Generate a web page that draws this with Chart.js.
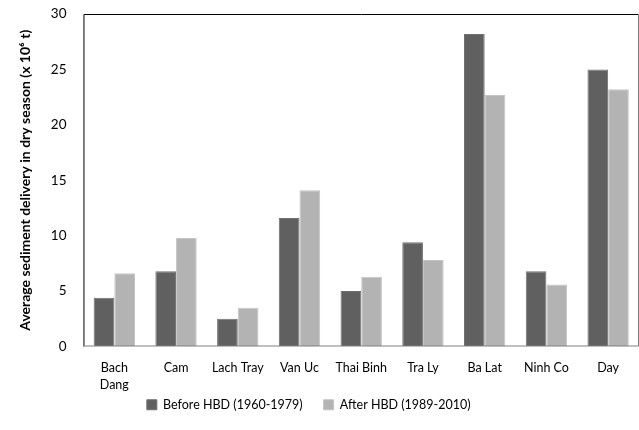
<!DOCTYPE html>
<html>
<head>
<meta charset="utf-8">
<script src="https://cdn.jsdelivr.net/npm/chart.js@4.4.0/dist/chart.umd.min.js"></script>
<style>
  html, body { margin: 0; padding: 0; background: #fff; }
  #wrap { width: 639px; height: 430px; }
</style>
</head>
<body>
<div id="wrap"><canvas id="chart"></canvas></div>
<script>
// 数据
const categories = [['Bach', 'Dang'], 'Cam', 'Lach Tray', 'Van Uc', 'Thai Binh', 'Tra Ly', 'Ba Lat', 'Ninh Co', 'Day'];
const beforeHBD = [4.4, 6.8, 2.5, 11.6, 5.0, 9.4, 28.2, 6.8, 25.0];
const afterHBD = [6.6, 9.8, 3.5, 14.1, 6.3, 7.8, 22.7, 5.6, 23.2];
const yTicks = [0, 5, 10, 15, 20, 25, 30];

const font = "Lato, 'Open Sans', sans-serif";

// 绘图区边框
const frame = {
  id: 'frame',
  afterDraw(chart) {
    const a = chart.chartArea;
    const ctx = chart.ctx;
    ctx.save();
    ctx.lineWidth = 1;
    ctx.strokeStyle = '#000';
    ctx.beginPath();
    ctx.moveTo(a.left + 0.5, a.bottom);
    ctx.lineTo(a.left + 0.5, a.top + 0.5);
    ctx.lineTo(a.right, a.top + 0.5);
    ctx.stroke();
    ctx.strokeStyle = '#808080';
    ctx.beginPath();
    ctx.moveTo(a.right - 0.5, a.top);
    ctx.lineTo(a.right - 0.5, a.bottom - 0.5);
    ctx.lineTo(a.left, a.bottom - 0.5);
    ctx.stroke();
    ctx.restore();
  }
};

new Chart(document.getElementById('chart'), {
  type: 'bar',
  data: {
    labels: categories,
    datasets: [
      {
        label: 'Before HBD (1960-1979)',
        data: beforeHBD,
        backgroundColor: '#606060',
        borderColor: '#707070',
        borderWidth: 1
      },
      {
        label: 'After HBD (1989-2010)',
        data: afterHBD,
        backgroundColor: '#b3b3b3',
        borderColor: '#c4c4c4',
        borderWidth: 1
      }
    ]
  },
  options: {
    responsive: true,
    maintainAspectRatio: false,
    animation: false,
    datasets: { bar: { categoryPercentage: 0.67, barPercentage: 1 } },
    layout: { padding: { top: 14, right: -7, left: 13, bottom: 9 } },
    plugins: {
      tooltip: { enabled: false },
      legend: {
        position: 'bottom',
        labels: {
          boxWidth: 10,
          boxHeight: 10,
          padding: 5,
          color: '#000',
          font: { family: font, size: 12.5 },
          // 图例项之间留出间距
          generateLabels(chart) {
            const items = Chart.defaults.plugins.legend.labels.generateLabels(chart);
            items.forEach((item, i) => { item.text = item.text + (i === 0 ? '     ' : '             '); });
            return items;
          }
        }
      }
    },
    scales: {
      x: {
        grid: { display: false, drawTicks: false },
        border: { display: false },
        ticks: { color: '#000', padding: 13, maxRotation: 0, autoSkip: false, font: { family: font, size: 12.5, lineHeight: 1.36 } },
        afterFit(scale) { scale.height -= 13; }
      },
      y: {
        min: 0,
        max: 30,
        afterBuildTicks(axis) { axis.ticks = yTicks.map(v => ({ value: v })); },
        grid: { display: true, drawOnChartArea: false, drawTicks: true, tickLength: 14, tickColor: 'rgba(0,0,0,0)' },
        border: { display: false },
        ticks: { color: '#000', padding: 3, font: { family: font, size: 13.5 } },
        title: {
          display: true,
          text: 'Average sediment delivery in dry season (x 10\u2076 t)',
          color: '#000',
          padding: { bottom: 14 },
          font: { family: font, size: 14, weight: 'bold' }
        }
      }
    }
  },
  plugins: [frame]
});
</script>
</body>
</html>
